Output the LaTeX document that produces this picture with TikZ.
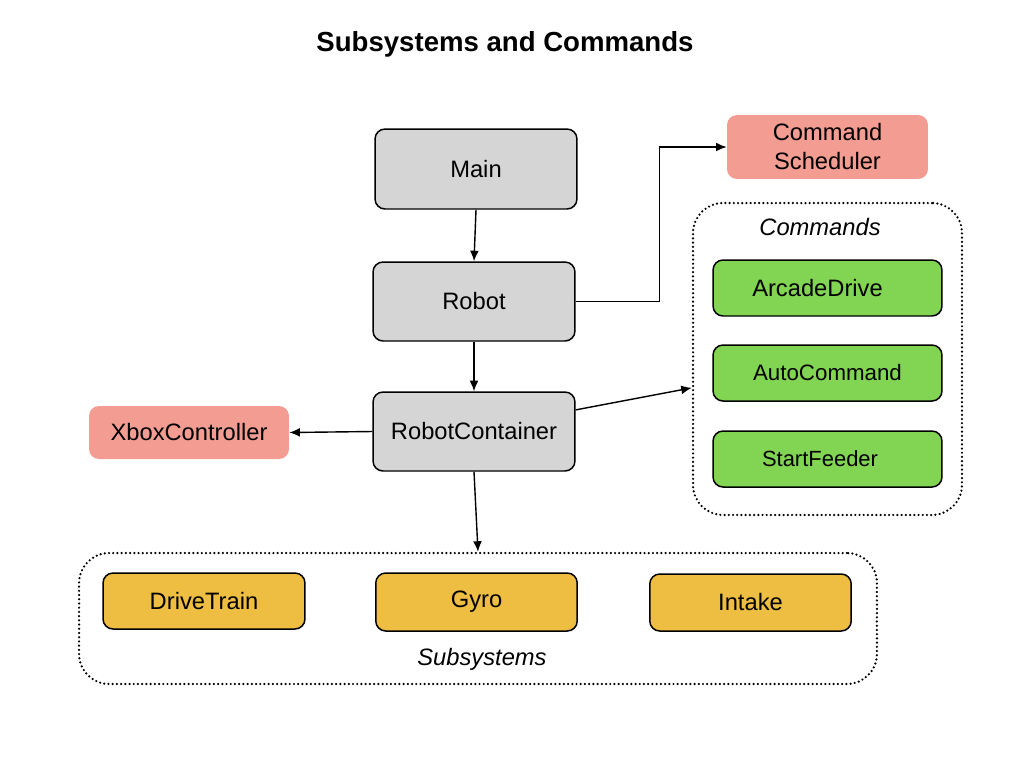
\documentclass[tikz,border=0pt]{standalone}
\usepackage{fontspec}
\setmainfont{Liberation Sans}
\usetikzlibrary{arrows.meta}
\definecolor{boxgray}{HTML}{D5D5D5}
\definecolor{boxpink}{HTML}{F29C92}
\definecolor{boxgreen}{HTML}{81D552}
\definecolor{boxyellow}{HTML}{EEBE42}
\tikzset{
  base/.style={rounded corners=0.2cm, inner sep=0pt, align=center,
    font=\fontsize{13.5}{16.5}\selectfont},
  graybox/.style={base, draw=black, line width=0.85pt, fill=boxgray,
    minimum width=4.04cm, minimum height=1.58cm},
  pinkbox/.style={base, fill=boxpink},
  greenbox/.style={base, draw=black, line width=0.85pt, fill=boxgreen,
    minimum width=4.58cm, minimum height=1.12cm},
  yellowbox/.style={base, draw=black, line width=0.85pt, fill=boxyellow,
    minimum width=4.03cm, minimum height=1.14cm},
  groupbox/.style={draw=black, line width=1.4pt, line cap=round,
    dash pattern=on 0pt off 2.4pt, rounded corners=0.6cm, inner sep=0pt},
  grouplabel/.style={font=\itshape\fontsize{13.5}{16.5}\selectfont, inner sep=0pt},
  conn/.style={draw=black, line width=0.8pt, -{Latex[length=6pt,width=5pt]}},
}
\begin{document}
\begin{tikzpicture}[x=0.02cm, y=-0.02cm]
\path[use as bounding box, fill=white] (0,0) rectangle (1024,768);

\node[inner sep=0pt, font=\bfseries\fontsize{15.7}{18}\selectfont] (title) at (505,44) {Subsystems and Commands};

\node[groupbox, minimum width=5.38cm, minimum height=6.24cm] (cmds) at (827.5,359) {};
\node[grouplabel] (cmdslabel) at (820,227) {Commands};
\node[groupbox, minimum width=15.96cm, minimum height=2.62cm] (subs) at (478,618.5) {};
\node[grouplabel] (subslabel) at (482,659) {Subsystems};

\node[graybox, minimum height=1.6cm] (main) at (476,169) {Main};
\node[graybox] (robot) at (474,301.5) {Robot};
\node[graybox] (rc) at (474,431.5) {RobotContainer};
\node[pinkbox, minimum width=4.0cm, minimum height=1.06cm] (xbox) at (189,432.5) {XboxController};
\node[pinkbox, minimum width=4.02cm, minimum height=1.28cm] (sched) at (827.5,147) {Command\\Scheduler};

\node[greenbox] (arcade) at (827.5,288) {\hspace*{-0.4cm}ArcadeDrive};
\node[greenbox, font=\fontsize{12.7}{15}\selectfont] (auto) at (827.5,373) {AutoCommand};
\node[greenbox, font=\fontsize{12.5}{15}\selectfont] (feeder) at (827.5,459) {\hspace*{-0.3cm}StartFeeder};

\node[yellowbox, minimum width=4.04cm, minimum height=1.12cm] (drive) at (204,601) {DriveTrain};
\node[yellowbox, minimum height=1.16cm] (gyro) at (476.5,602) {Gyro};
\node[yellowbox] (intake) at (750.5,602.5) {Intake};

\draw[conn] (main.south) -- (robot.north);
\draw[conn] (robot.south) -- (rc.north);
\draw[conn] (robot.east) -- ++(84,0) |- (sched.west);
\draw[conn] (rc.west) -- (xbox.east);
\draw[conn] (rc.12) -- (cmds.192);
\draw[conn] (rc.south) -- (subs.north);
\end{tikzpicture}
\end{document}
